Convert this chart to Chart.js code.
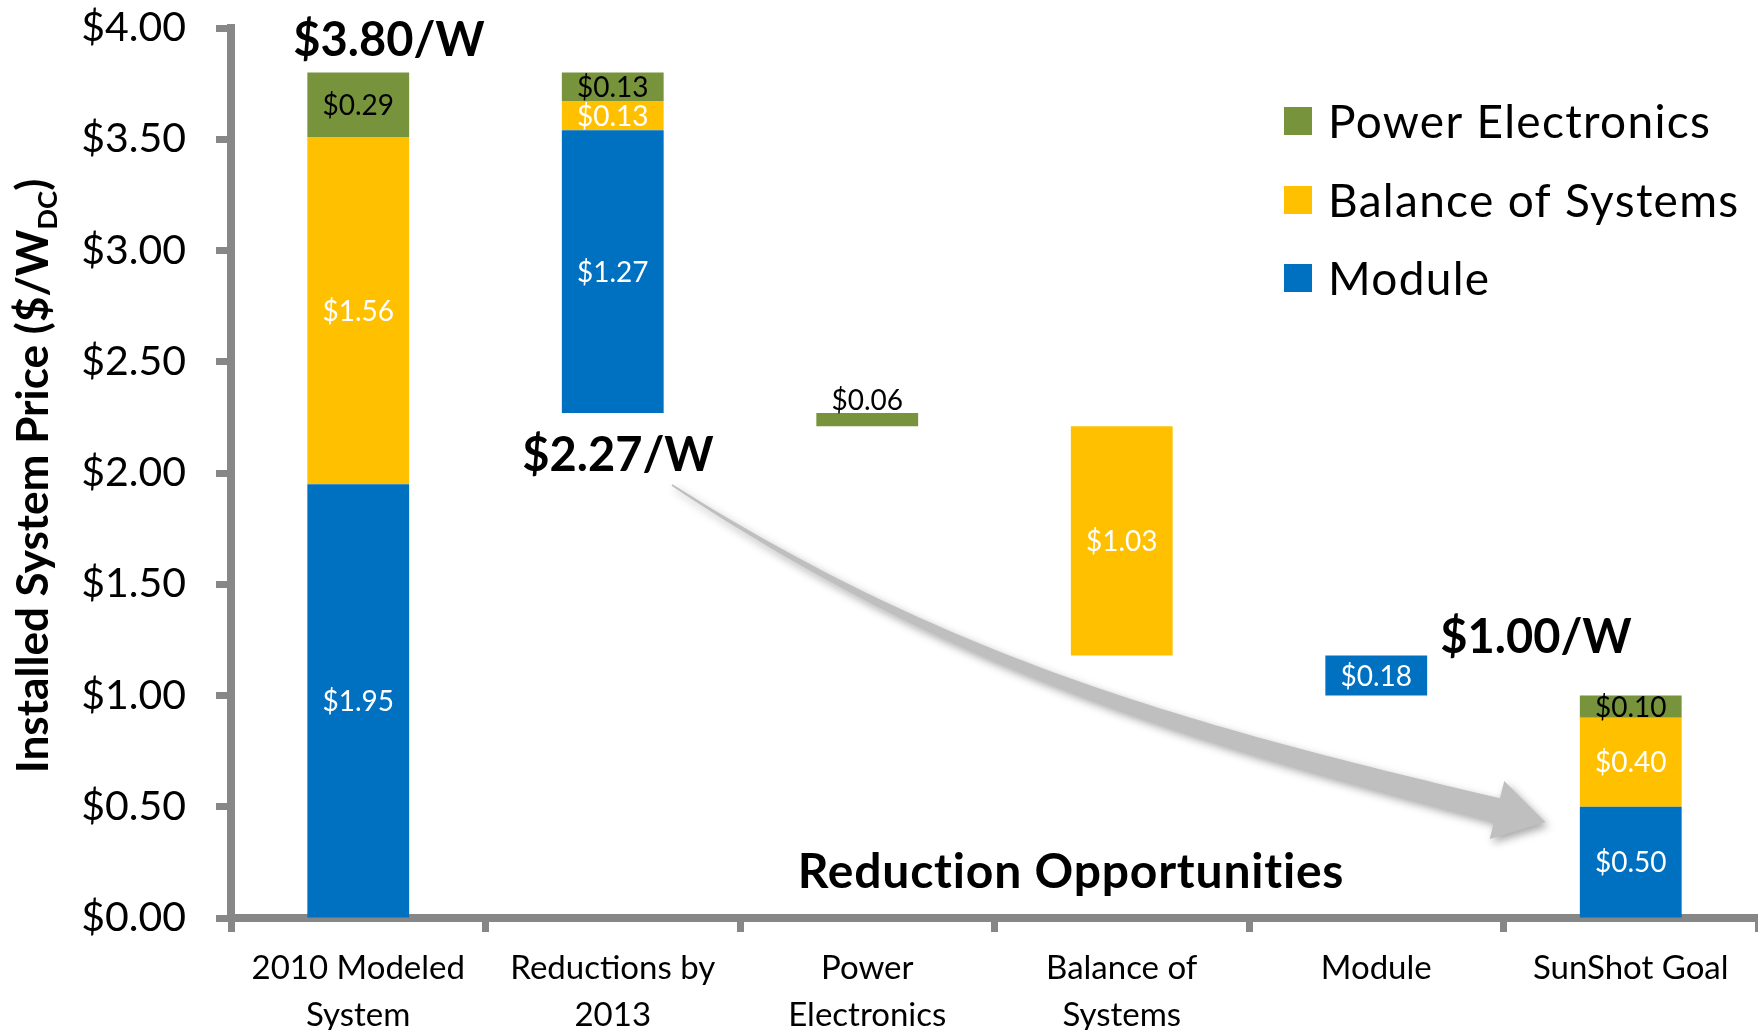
<!DOCTYPE html>
<html>
<head>
<meta charset="utf-8">
<script src="https://cdn.jsdelivr.net/npm/chart.js@4.4.1/dist/chart.umd.min.js"></script>
<style>
  html, body { margin: 0; padding: 0; background: #fff; }
  #chart { display: block; }
</style>
</head>
<body>
<canvas id="chart" width="1758" height="1030" style="width:1758px;height:1030px"></canvas>
<script>
'use strict';

// categories along the x axis (multi-line ones as arrays)
var categories = [['2010 Modeled', 'System'], ['Reductions by', '2013'], ['Power', 'Electronics'], ['Balance of', 'Systems'], 'Module', 'SunShot Goal'];
// where each floating stack starts ($/W)
var baseValues = [0, 2.27, 2.21, 1.18, 1.00, 0];
// segment sizes, stacked bottom -> top: module, balance of systems, power electronics
var moduleValues = [1.95, 1.27, null, null, 0.18, 0.50];
var bosValues = [1.56, 0.13, null, 1.03, null, 0.40];
var peValues = [0.29, 0.13, 0.06, null, null, 0.10];
var seriesNames = ['Module', 'Balance of Systems', 'Power Electronics'];
var yMin = 0;
var yMax = 4;
var yStep = 0.5;
var totalLabels = ['$3.80/W', '$2.27/W', '$1.00/W'];
var noteLabel = 'Reduction Opportunities';

(function () {
  var GRAY = '#878787';
  var COLORS = ['#0070C0', '#FFC000', '#77933C'];
  var LABEL_COLORS = ['#ffffff', '#ffffff', '#000000'];
  var FONT = 'Lato, "Open Sans", sans-serif';

  // turn the stacked segments into floating [low, high] ranges
  var segs = [moduleValues, bosValues, peValues];
  var ranges = [[], [], []];
  for (var i = 0; i < categories.length; i++) {
    var lo = baseValues[i];
    for (var s = 0; s < segs.length; s++) {
      var v = segs[s][i];
      if (v === null) {
        ranges[s].push(null);
      } else {
        ranges[s].push([lo, +(lo + v).toFixed(2)]);
        lo = lo + v;
      }
    }
  }

  var datasets = [];
  for (var k = 0; k < segs.length; k++) {
    datasets.push({
      label: seriesNames[k],
      data: ranges[k],
      rawValues: segs[k],
      labelColor: LABEL_COLORS[k],
      backgroundColor: COLORS[k],
      borderWidth: 0,
      grouped: false,
      categoryPercentage: 1,
      barPercentage: 0.4
    });
  }

  // value labels on each segment
  var segmentLabels = {
    id: 'segmentLabels',
    afterDatasetsDraw: function (chart) {
      var ctx = chart.ctx;
      ctx.save();
      ctx.font = '28px ' + FONT;
      ctx.textAlign = 'center';
      chart.data.datasets.forEach(function (ds, di) {
        var meta = chart.getDatasetMeta(di);
        meta.data.forEach(function (bar, idx) {
          var v = ds.rawValues[idx];
          if (v === null || v === undefined) return;
          var top = Math.min(bar.y, bar.base);
          var bottom = Math.max(bar.y, bar.base);
          var txt = '$' + v.toFixed(2);
          ctx.fillStyle = ds.labelColor;
          if (bottom - top < 16) {
            ctx.textBaseline = 'alphabetic';
            ctx.fillText(txt, bar.x, top - 3);
          } else {
            ctx.textBaseline = 'middle';
            ctx.fillText(txt, bar.x, (top + bottom) / 2 + 1);
          }
        });
      });
      ctx.restore();
    }
  };

  // curved grey arrow, titles, legend and y axis title
  var decorations = {
    id: 'decorations',
    beforeDatasetsDraw: function (chart) {
      var ctx = chart.ctx;
      var p0 = [672, 485], p1 = [952, 667], p2 = [1197, 735], p3 = [1497, 810];
      var n = 60, left = [], right = [];
      for (var j = 0; j <= n; j++) {
        var t = j / n, u = 1 - t;
        var x = u * u * u * p0[0] + 3 * u * u * t * p1[0] + 3 * u * t * t * p2[0] + t * t * t * p3[0];
        var y = u * u * u * p0[1] + 3 * u * u * t * p1[1] + 3 * u * t * t * p2[1] + t * t * t * p3[1];
        var dx = 3 * u * u * (p1[0] - p0[0]) + 6 * u * t * (p2[0] - p1[0]) + 3 * t * t * (p3[0] - p2[0]);
        var dy = 3 * u * u * (p1[1] - p0[1]) + 6 * u * t * (p2[1] - p1[1]) + 3 * t * t * (p3[1] - p2[1]);
        var len = Math.sqrt(dx * dx + dy * dy);
        var nx = -dy / len, ny = dx / len;
        var w = (1 + 11 * t);
        left.push([x + nx * w, y + ny * w]);
        right.push([x - nx * w, y - ny * w]);
      }
      var tx = p3[0] - p2[0], ty = p3[1] - p2[1];
      var tl = Math.sqrt(tx * tx + ty * ty);
      tx /= tl; ty /= tl;
      var hw = 30, hl = 50;
      ctx.save();
      ctx.shadowColor = 'rgba(0,0,0,0.35)';
      ctx.shadowBlur = 8;
      ctx.shadowOffsetX = 3;
      ctx.shadowOffsetY = 4;
      ctx.fillStyle = '#BFBFBF';
      ctx.beginPath();
      ctx.moveTo(left[0][0], left[0][1]);
      for (var a = 1; a < left.length; a++) ctx.lineTo(left[a][0], left[a][1]);
      ctx.lineTo(p3[0] - ty * hw, p3[1] + tx * hw);
      ctx.lineTo(p3[0] + tx * hl, p3[1] + ty * hl);
      ctx.lineTo(p3[0] + ty * hw, p3[1] - tx * hw);
      for (var b = right.length - 1; b >= 0; b--) ctx.lineTo(right[b][0], right[b][1]);
      ctx.closePath();
      ctx.fill();
      ctx.restore();
    },
    afterDraw: function (chart) {
      var ctx = chart.ctx;
      ctx.save();
      ctx.fillStyle = '#000';
      ctx.textAlign = 'center';
      ctx.textBaseline = 'middle';
      ctx.font = 'bold 47px ' + FONT;
      ctx.fillText(totalLabels[0], 389, 41);
      ctx.fillText(totalLabels[1], 618, 456);
      ctx.fillText(totalLabels[2], 1536, 638);
      ctx.font = 'bold 48px ' + FONT;
      if ('letterSpacing' in ctx) ctx.letterSpacing = '0.8px';
      ctx.fillText(noteLabel, 1071, 873);

      // legend (reverse order, like the source)
      ctx.textAlign = 'left';
      ctx.font = '46px ' + FONT;
      if ('letterSpacing' in ctx) ctx.letterSpacing = '1.3px';
      var ly = [121, 200, 278];
      for (var q = 0; q < 3; q++) {
        var si = 2 - q;
        ctx.fillStyle = COLORS[si];
        ctx.fillRect(1284, ly[q] - 14, 28, 28);
        ctx.fillStyle = '#000';
        ctx.fillText(seriesNames[si], 1328, ly[q] + 2);
      }
      if ('letterSpacing' in ctx) ctx.letterSpacing = '0px';

      // y axis title with subscript
      var t1 = 'Installed System Price ($/W', t2 = 'DC', t3 = ')';
      var fs = 40;
      ctx.font = 'bold ' + fs + 'px ' + FONT;
      var w1 = ctx.measureText(t1).width, w3 = ctx.measureText(t3).width;
      ctx.font = 'bold ' + Math.round(fs * 0.62) + 'px ' + FONT;
      var w2 = ctx.measureText(t2).width;
      var scale = 595 / (w1 + w2 + w3);
      fs = fs * scale;
      ctx.translate(32, 476);
      ctx.rotate(-Math.PI / 2);
      ctx.font = 'bold ' + fs + 'px ' + FONT;
      w1 = ctx.measureText(t1).width;
      w3 = ctx.measureText(t3).width;
      ctx.font = 'bold ' + (fs * 0.62) + 'px ' + FONT;
      w2 = ctx.measureText(t2).width;
      var x0 = -(w1 + w2 + w3) / 2;
      ctx.textBaseline = 'alphabetic';
      ctx.font = 'bold ' + fs + 'px ' + FONT;
      ctx.fillText(t1, x0, fs * 0.36);
      ctx.font = 'bold ' + (fs * 0.62) + 'px ' + FONT;
      ctx.fillText(t2, x0 + w1, fs * 0.36 + fs * 0.2);
      ctx.font = 'bold ' + fs + 'px ' + FONT;
      ctx.fillText(t3, x0 + w1 + w2, fs * 0.36);
      ctx.restore();
    }
  };

  function build() {
    var ctx = document.getElementById('chart').getContext('2d');
    new Chart(ctx, {
      type: 'bar',
      data: {
        labels: categories,
        datasets: datasets
      },
      plugins: [decorations, segmentLabels],
      options: {
        responsive: false,
        animation: false,
        layout: { padding: { top: 28, left: 0, right: 0, bottom: 0 } },
        plugins: {
          legend: { display: false },
          tooltip: { enabled: false }
        },
        scales: {
          x: {
            grid: {
              offset: true,
              drawOnChartArea: false,
              drawTicks: true,
              tickLength: 14,
              tickWidth: 7,
              tickColor: GRAY
            },
            border: { display: true, color: GRAY, width: 8 },
            ticks: {
              color: '#000',
              padding: 13,
              maxRotation: 0,
              autoSkip: false,
              font: { family: FONT, size: 33, lineHeight: 1.42 }
            },
            afterFit: function (scale) { scale.height = 112; }
          },
          y: {
            min: yMin,
            max: yMax,
            grid: {
              drawOnChartArea: false,
              drawTicks: true,
              tickLength: 15,
              tickWidth: 7,
              tickColor: GRAY
            },
            border: { display: true, color: GRAY, width: 8 },
            ticks: {
              stepSize: yStep,
              color: '#000',
              padding: 30,
              font: { family: FONT, size: 41 },
              callback: function (value) { return '$' + Number(value).toFixed(2); }
            },
            afterFit: function (scale) {
              scale.width = 231;
              scale.paddingTop = 0;
              scale.paddingBottom = 0;
            }
          }
        }
      }
    });
  }

  if (document.fonts && document.fonts.load) {
    Promise.all([
      document.fonts.load('41px Lato'),
      document.fonts.load('bold 46px Lato')
    ]).then(build, build);
  } else {
    build();
  }
}());
</script>
</body>
</html>
